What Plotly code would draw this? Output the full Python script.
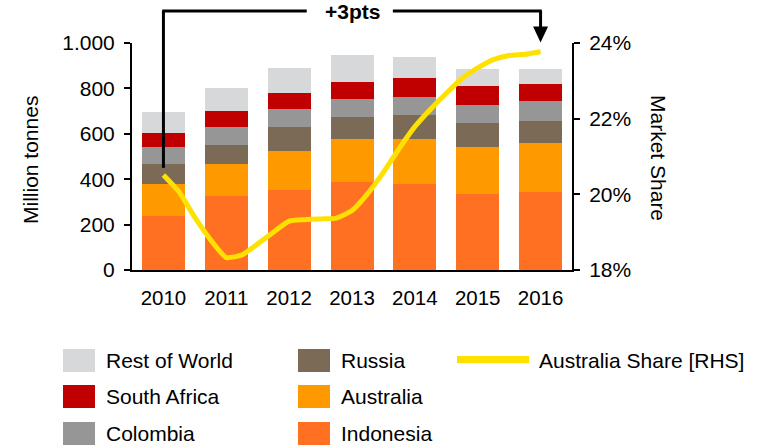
import plotly.graph_objects as go

# Thermal coal exports by country (million tonnes)
years = ['2010', '2011', '2012', '2013', '2014', '2015', '2016']
indonesia = [236, 324, 351, 386, 377, 333, 342]
australia = [141, 142, 172, 190, 199, 208, 216]
russia = [89, 84, 106, 97, 106, 106, 97]
colombia = [75, 79, 79, 80, 80, 79, 89]
south_africa = [62, 71, 71, 75, 83, 84, 75]
rest_of_world = [92, 101, 111, 119, 93, 75, 66]

# Australia market share (%), quarterly points
share_x = [2010 + q * 0.25 for q in range(25)]
share = [20.51, 20.06, 19.39, 18.80, 18.33, 18.40, 18.69, 19.00, 19.29,
         19.33, 19.35, 19.37, 19.57, 20.02, 20.58, 21.21, 21.79, 22.25,
         22.67, 23.06, 23.34, 23.56, 23.67, 23.70, 23.77]
share_ticks = [18, 20, 22, 24]
share_labels = ['18%', '20%', '22%', '24%']

series = [
    ('Indonesia', indonesia, '#FF7022'),
    ('Australia', australia, '#FF9900'),
    ('Russia', russia, '#7B6A56'),
    ('Colombia', colombia, '#969696'),
    ('South Africa', south_africa, '#C00000'),
    ('Rest of World', rest_of_world, '#D7D8DA'),
]
LINE_COLOR = '#FFE100'
FONT = 'Arial, Liberation Sans, sans-serif'

W, H = 771, 448
L, T = 132, 43
PW, PH = 440, 227
R, B = W - L - PW, H - T - PH


# helpers: figure pixel -> paper coordinates
def px(x):
    return (x - L) / PW


def py(y):
    return (T + PH - y) / PH


fig = go.Figure()

for name, vals, color in series:
    fig.add_trace(go.Bar(x=years, y=vals, name=name, marker_color=color,
                         marker_line_width=0, showlegend=False))

fig.add_trace(go.Scatter(x=share_x, y=share, name='Australia Share [RHS]',
                         mode='lines', xaxis='x2', yaxis='y2',
                         line=dict(color=LINE_COLOR, width=5, shape='spline', smoothing=0.5),
                         showlegend=False))

shapes = []
annotations = []

# "+3pts" bracket
top = py(11)
shapes += [
    dict(type='line', xref='x', yref='y', x0=0, x1=0, y0=450, y1=1000,
         line=dict(color='black', width=3)),
    dict(type='line', xref='x', yref='paper', x0=0, x1=0, y0=1.0, y1=top,
         line=dict(color='black', width=3)),
    dict(type='line', xref='x', yref='paper', x0=-0.02, x1=2.28, y0=top, y1=top,
         line=dict(color='black', width=3)),
    dict(type='line', xref='x', yref='paper', x0=3.65, x1=6.02, y0=top, y1=top,
         line=dict(color='black', width=3)),
    dict(type='line', xref='x', yref='paper', x0=6, x1=6, y0=top, y1=py(27),
         line=dict(color='black', width=3)),
    dict(type='path', xref='x', yref='paper', xsizemode='pixel', ysizemode='pixel',
         xanchor=6, yanchor=py(42.5), path='M -7.5 16 L 7.5 16 L 0 0 Z',
         fillcolor='black', line=dict(width=0)),
]
annotations.append(dict(x=3, xref='x', y=top, yref='paper', text='<b>+3pts</b>',
                        showarrow=False, font=dict(size=21, color='black'),
                        xanchor='center', yanchor='middle'))

# axis titles
annotations.append(dict(x=px(30), y=py(160), xref='paper', yref='paper',
                        text='Million tonnes', textangle=-90, showarrow=False,
                        xanchor='center', yanchor='middle',
                        font=dict(size=21, color='black')))
annotations.append(dict(x=px(659), y=py(158), xref='paper', yref='paper',
                        text='Market Share', textangle=90, showarrow=False,
                        xanchor='center', yanchor='middle',
                        font=dict(size=21, color='black')))

# legend, drawn by hand in three columns
legend_cols = [
    (63, [('Rest of World', '#D7D8DA'), ('South Africa', '#C00000'), ('Colombia', '#969696')]),
    (298, [('Russia', '#7B6A56'), ('Australia', '#FF9900'), ('Indonesia', '#FF7022')]),
]
row_y = [360.5, 396.5, 433.5]
for x0, items in legend_cols:
    for (label, color), yc in zip(items, row_y):
        shapes.append(dict(type='rect', xref='paper', yref='paper',
                           x0=px(x0), x1=px(x0 + 32), y0=py(yc - 11.5), y1=py(yc + 11.5),
                           fillcolor=color, line=dict(width=0)))
        annotations.append(dict(x=px(x0 + 41), y=py(yc), xref='paper', yref='paper',
                                text=label, showarrow=False, xanchor='left', yanchor='middle',
                                font=dict(size=21, color='black')))
shapes.append(dict(type='line', xref='paper', yref='paper', x0=px(457), x1=px(529),
                   y0=py(359.5), y1=py(359.5), line=dict(color=LINE_COLOR, width=7)))
annotations.append(dict(x=px(537), y=py(360.5), xref='paper', yref='paper',
                        text='Australia Share [RHS]', showarrow=False, xanchor='left',
                        yanchor='middle', font=dict(size=21, color='black')))

fig.update_layout(
    width=W, height=H, autosize=False,
    margin=dict(l=L, r=R, t=T, b=B, pad=0),
    barmode='stack', bargap=0.316,
    paper_bgcolor='white', plot_bgcolor='white',
    separators=',.',
    font=dict(family=FONT, size=20, color='black'),
    showlegend=False,
    xaxis=dict(type='category', showline=True, linecolor='black', linewidth=2,
               ticks='', showgrid=False, zeroline=False, ticklabelstandoff=8,
               tickfont=dict(size=20.5)),
    xaxis2=dict(overlaying='x', range=[2009.5, 2016.5], visible=False),
    yaxis=dict(range=[0, 1000], tickvals=[0, 200, 400, 600, 800, 1000], tickformat=',d',
               showline=True, linecolor='black', linewidth=2, ticks='outside',
               ticklen=6, tickwidth=2, tickcolor='black', showgrid=False, zeroline=False,
               ticklabelstandoff=5, tickfont=dict(size=21)),
    yaxis2=dict(overlaying='y', side='right', anchor='x', range=[18, 24],
                tickmode='array', tickvals=share_ticks, ticktext=share_labels,
                showline=True, linecolor='black', linewidth=2, ticks='outside',
                ticklen=6, tickwidth=2, tickcolor='black', showgrid=False,
                zeroline=False, ticklabelstandoff=5, tickfont=dict(size=21)),
    shapes=shapes,
    annotations=annotations,
)

# drop the browser's default body margin so the figure sits at the window corner
fig.write_html("out.html", config={'displayModeBar': False},
               post_script="document.body.style.margin = '0';")
